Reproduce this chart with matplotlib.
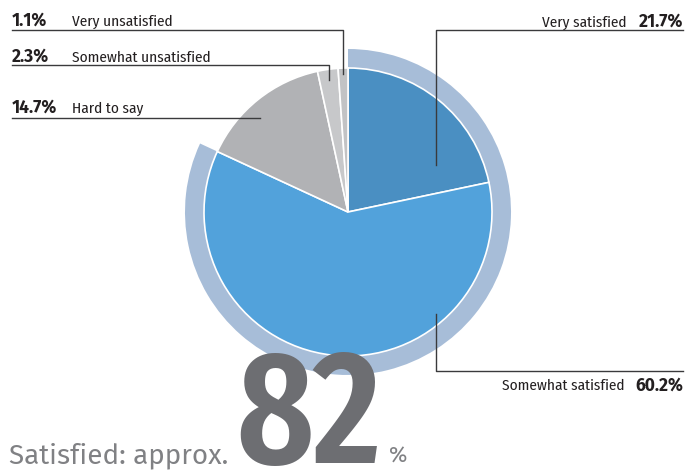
import matplotlib.pyplot as plt
from matplotlib.patches import Wedge

labels = ['Very satisfied', 'Somewhat satisfied', 'Hard to say',
          'Somewhat unsatisfied', 'Very unsatisfied']
shares = [21.7, 60.2, 14.7, 2.3, 1.1]
colors = ['#4a8fc2', '#52a2db', '#b1b2b5', '#c7c8ca', '#c2c3c5']
satisfied_total = 82

plt.rcParams['font.family'] = ['Fira Sans Condensed', 'DejaVu Sans']
wide = ['Fira Sans', 'DejaVu Sans']

W, H = 700, 470
fig = plt.figure(figsize=(7, 4.7), dpi=100)
ax = fig.add_axes([0, 0, 1, 1])

def y(v):
    return H - v

cx, cy = 348, y(212)
r = 144

# ring around the satisfied part
sat = shares[0] + shares[1]
ax.add_patch(Wedge((cx, cy), r + 19, 90 - sat * 3.6, 90, width=19,
                   facecolor='#a7bdd8', edgecolor='none'))

ax.pie(shares, colors=colors, startangle=90, counterclock=False,
       center=(cx, cy), radius=r, frame=True,
       wedgeprops=dict(edgecolor='white', linewidth=1.2))
ax.set_xlim(0, W)
ax.set_ylim(0, H)
ax.set_aspect('equal')
ax.axis('off')

line_kw = dict(color='#3a3a3c', lw=1.0)
txt = '#231f20'

# right side leaders
ax.plot([436, 436, 683], [y(165), y(30), y(30)], **line_kw)
ax.text(626, y(26.5), labels[0], ha='right', va='baseline', fontsize=11, color=txt)
ax.text(683, y(26.5), f'{shares[0]}%', ha='right', va='baseline', fontsize=12.5,
        color=txt, fontweight='bold', family=wide)

ax.plot([436, 436, 683], [y(314), y(371), y(371)], **line_kw)
ax.text(624, y(390.5), labels[1], ha='right', va='baseline', fontsize=11, color=txt)
ax.text(683, y(390.5), f'{shares[1]}%', ha='right', va='baseline', fontsize=12.5,
        color=txt, fontweight='bold', family=wide)

# left side leaders
ax.plot([342.5, 342.5, 12], [y(74), y(30), y(30)], **line_kw)
ax.plot([328.5, 328.5, 12], [y(80), y(65), y(65)], **line_kw)
ax.plot([260, 12], [y(117.5), y(117.5)], **line_kw)

left_rows = [(4, 26), (3, 61.5), (2, 112.5)]
for i, base in left_rows:
    ax.text(12, y(base), f'{shares[i]}%', ha='left', va='baseline', fontsize=12.5,
            color=txt, fontweight='bold', family=wide)
    ax.text(71.5, y(base), labels[i], ha='left', va='baseline', fontsize=11, color=txt)

# headline figure
ax.text(9, y(463), 'Satisfied: approx.', ha='left', va='baseline', fontsize=20,
        color='#808184', family=wide)
ax.text(236, y(463), f'{satisfied_total}', ha='left', va='baseline', fontsize=116,
        color='#6d6e72', fontweight='semibold',
        family=['Fira Sans Extra Condensed', 'DejaVu Sans'])
ax.text(389, y(463), '%', ha='left', va='baseline', fontsize=16, color='#808184',
        family=wide)

fig.savefig('out.png', dpi=100)
